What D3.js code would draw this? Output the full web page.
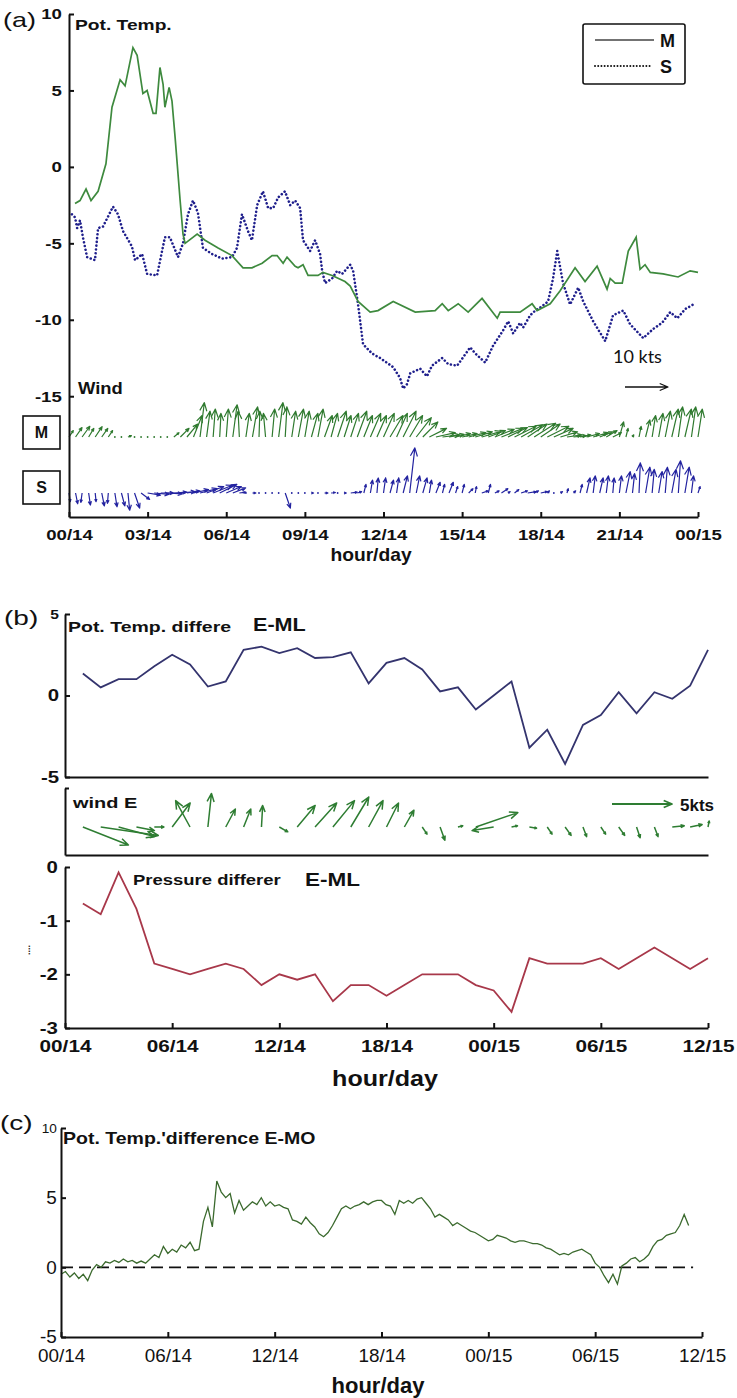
<!DOCTYPE html>
<html>
<head>
<meta charset="utf-8">
<script src="https://cdn.jsdelivr.net/npm/d3@7"></script>
<style>
  body { margin: 0; background: #fff; }
</style>
</head>
<body>
<script>
// ---------- data ----------
// (a) potential temperature, hours from 00/14
const potHoursM = [0.23,0.42,0.65,0.84,1.11,1.41,1.64,1.95,2.14,2.44,2.60,2.82,2.98,3.21,3.32,3.47,3.59,3.66,3.82,3.93,4.05,4.24,4.35,4.43,4.89,5.19,5.69,6.22,6.64,6.98,7.37,7.75,7.94,8.17,8.32,8.63,8.74,8.93,9.12,9.50,9.69,10.04,10.53,10.73,11.03,11.49,11.79,12.37,13.21,13.97,14.24,14.47,14.85,15.23,15.76,16.34,16.45,17.21,17.67,17.86,18.36,18.74,19.31,19.69,20.15,20.53,20.65,20.84,21.11,21.34,21.64,21.79,21.98,22.18,22.67,23.24,23.70,24.0];
const potM = [-2.4,-2.2,-1.45,-2.2,-1.6,0.2,3.9,5.7,5.3,7.8,7.3,4.8,5.0,3.5,3.5,6.5,5.4,3.9,5.2,4.3,1.9,-2.2,-4.4,-5.0,-4.4,-4.8,-5.3,-5.8,-6.6,-6.6,-6.3,-5.8,-5.8,-6.3,-5.9,-6.5,-6.6,-6.4,-7.1,-7.1,-6.9,-7.1,-7.5,-7.8,-8.8,-9.5,-9.4,-8.8,-9.5,-9.4,-8.95,-9.4,-8.95,-9.5,-8.6,-9.9,-9.5,-9.5,-8.95,-9.4,-8.95,-8.1,-6.6,-7.5,-6.5,-8.0,-7.3,-7.6,-7.6,-5.5,-4.6,-6.7,-6.4,-6.9,-7.0,-7.2,-6.8,-6.9];
const potHoursS = [0.11,0.23,0.31,0.42,0.53,0.69,0.99,1.11,1.30,1.68,1.87,2.06,2.40,2.52,2.79,2.98,3.36,3.66,3.85,4.16,4.35,4.54,4.73,4.92,5.11,5.46,5.84,6.22,6.41,6.60,6.83,6.98,7.18,7.40,7.60,7.79,7.98,8.24,8.44,8.63,8.82,8.93,9.20,9.39,9.58,9.66,9.77,10.04,10.23,10.42,10.73,10.84,11.03,11.22,11.56,11.87,12.37,12.63,12.75,12.90,13.02,13.40,13.66,13.85,14.24,14.47,14.81,15.31,15.50,15.88,16.18,16.56,16.76,16.95,17.21,17.33,17.60,17.79,17.98,18.28,18.47,18.63,18.85,19.12,19.43,19.62,20.00,20.46,20.76,21.15,21.41,21.91,22.29,22.63,22.94,23.21,23.51,23.82];
const potS = [-3.1,-3.3,-4.0,-3.5,-4.6,-5.9,-6.1,-4.0,-3.9,-2.6,-3.1,-4.2,-5.2,-6.1,-5.7,-7.0,-7.1,-4.6,-4.6,-5.9,-5.0,-3.1,-2.2,-3.0,-5.3,-5.7,-6.0,-5.9,-5.3,-3.1,-4.2,-4.8,-2.5,-1.6,-2.7,-2.7,-2.0,-1.6,-2.5,-2.2,-2.7,-4.8,-5.5,-4.8,-5.7,-6.8,-7.6,-7.3,-6.8,-7.0,-6.4,-6.8,-9.0,-11.6,-12.2,-12.5,-13.1,-13.8,-14.5,-14.2,-13.5,-13.2,-13.7,-13.0,-12.5,-12.9,-13.0,-11.8,-12.2,-12.8,-11.7,-10.7,-10.1,-10.9,-10.2,-10.5,-9.7,-9.4,-9.2,-8.8,-7.3,-5.5,-7.6,-9.0,-7.9,-8.8,-10.1,-11.4,-9.7,-9.4,-10.3,-11.2,-10.6,-10.2,-9.5,-9.9,-9.3,-9.0];

// (a) wind, every 15 min from 00/14 to 00/15 (kts)
const windUM = [1.0,1.5,1.8,1.2,1.6,1.4,1.0,0,0,0.8,0,0,
  0,0,0,0,1.2,2.0,2.5,2.0,1.0,0.8,0.5,0.3,
  0.5,1.0,-0.3,0.8,1.2,0.2,-0.5,0.6,1.0,0.4,0.9,1.2,
  1.0,1.5,1.2,1.8,1.5,2.0,1.6,1.8,2.2,2.0,2.4,2.2,
  2.5,3.0,2.5,3.0,3.0,3.5,3.5,4.0,4.5,4.0,3.5,3.5,
  3.5,4.0,4.0,4.5,4.0,4.5,5.0,4.5,5.0,5.0,4.5,5.0,
  4.5,5.0,4.5,4.0,3.5,3.0,2.5,3.0,3.5,3.0,2.5,2.0,
  1.0,0.5,0.3,0.5,1.0,0.8,1.0,1.2,1.5,1.0,1.5,1.0, 1.0];
const windVM = [1.5,2.2,2.5,2.0,2.4,2.0,1.5,0,0,0.3,0,0,
  0,0,0,0,1.0,2.0,3.0,5.0,8.0,6.0,6.5,5.5,
  6.5,7.5,6.0,5.5,7.0,6.0,5.5,6.5,8.0,7.0,6.0,6.5,
  6.0,5.5,6.5,5.0,5.5,6.0,5.0,5.5,6.0,5.0,5.5,5.0,
  5.5,5.0,5.5,6.0,5.0,4.5,3.5,2.0,1.0,0.5,0.6,0.8,
  0.8,1.0,1.2,1.3,1.5,1.8,2.0,2.2,2.5,2.8,3.0,3.2,
  3.0,2.5,2.0,1.2,0.5,0.3,0.5,0.8,1.0,1.2,1.5,1.0,
  3.5,2.0,0.5,2.5,4.0,5.0,5.5,6.0,6.5,7.0,6.5,7.0, 6.5];
const windUS = [0.3,0.5,-0.3,0.4,0.2,0.6,-0.2,0.5,0.8,0.4,1.2,2.0,
  3.0,3.5,3.0,3.5,3.0,3.5,3.0,3.5,4.0,4.0,4.5,4.0,
  3.5,3.0,1.5,0,0.8,0,0,0,0,1.2,0,0,
  0,0.5,0,0.8,1.0,0,0.5,1.5,1.0,0.5,0.5,0.3,
  0.5,0.8,0.5,1.0,1.2,0.8,1.0,0.5,1.0,0.5,1.0,0.5,
  0.5,1.0,0.3,1.5,0.5,1.0,1.5,0.5,1.0,1.5,2.0,1.0,
  1.5,0.5,0,0.5,0.3,0.5,0.5,0.8,0.5,0.8,0.5,0.3,
  0.5,1.0,0.5,0.3,1.0,0.5,0.8,0.5,1.0,0.5,1.0,0.5, 0.5];
const windVS = [-2.0,-2.5,-2.2,-2.8,-2.0,-3.0,-2.4,-3.2,-3.0,-4.0,-3.5,-1.5,
  -0.5,-0.3,0,-0.2,0.2,0.3,0.5,0.8,1.0,1.5,1.8,2.0,
  1.5,1.2,0.2,0,0,0,0,0,0,-3.5,0,0,
  0,0,0,0,0.1,0,0,0.2,0.3,2.0,3.0,3.5,
  3.5,3.0,3.5,4.0,10.5,4.0,3.5,3.0,2.5,2.0,2.5,1.5,
  2.0,1.0,1.5,0.5,2.0,0.5,1.0,0.3,0.8,0.5,0.3,0.5,
  0.3,0.5,0,0.3,1.0,0.5,2.0,3.5,4.0,3.5,4.0,3.5,
  4.0,5.0,4.5,7.0,6.0,5.5,5.0,6.0,5.5,7.5,6.0,4.0, 1.5];

// (b) hourly from 01/14 to 12/15
const diffHoursB = d3.range(1, 37);
const potDiffEML = [1.35,0.5,1.0,1.0,1.8,2.5,1.9,0.55,0.86,2.8,3.0,2.6,2.9,2.3,2.35,2.65,0.74,2.0,2.3,1.6,0.25,0.5,-0.86,0.0,0.86,-3.2,-2.1,-4.2,-1.8,-1.2,0.2,-1.1,0.2,-0.2,0.6,2.8];
const windUE = [3.8,4.8,3.0,1.5,0.8,1.5,-1.2,0.3,0.8,0.6,0.1,0.7,1.5,1.8,1.8,1.5,1.2,1.0,0.8,0.4,0.4,0.4,3.5,-1.8,0.5,0.6,0.4,0.5,0.3,0.4,0.5,0.3,0.3,1.0,1.0,0.1];
const windVE = [-1.5,-0.7,-0.8,-0.3,0,2.0,2.2,2.8,1.5,1.5,1.8,-0.4,1.8,2.0,2.2,2.5,2.2,2.0,1.4,-0.6,-1.1,0.1,1.2,-0.3,0.1,-0.1,-0.6,-0.7,-0.8,-0.6,-0.7,-0.9,-0.8,0.1,0.2,0.5];
const presDiffEML = [-0.68,-0.88,-0.1,-0.78,-1.8,-1.9,-2.0,-1.9,-1.8,-1.9,-2.2,-2.0,-2.1,-2.0,-2.5,-2.2,-2.2,-2.4,-2.2,-2.0,-2.0,-2.0,-2.2,-2.3,-2.7,-1.7,-1.8,-1.8,-1.8,-1.7,-1.9,-1.7,-1.5,-1.7,-1.9,-1.7];

// (c) every 15 min from 00/14
const potDiffEMO = [-0.5,-0.3,-0.7,-0.4, -0.8,-0.5,-0.95,-0.2, 0.2,0.0,0.4,0.3, 0.5,0.35,0.6,0.4,
  0.5,0.3,0.45,0.3, 0.6,0.9,0.7,1.5, 1.0,1.3,1.1,1.6, 1.4,1.8,1.2,1.3,
  3.3,4.3,2.9,6.2, 5.4,5.0,5.3,3.9, 4.8,4.1,4.4,4.7, 4.5,5.0,4.4,4.7,
  4.4,4.5,4.3,4.2, 3.4,3.3,3.1,3.6, 3.2,2.9,2.4,2.2, 2.5,3.0,3.6,4.2,
  4.4,4.2,4.4,4.5, 4.7,4.5,4.7,4.8, 4.8,4.5,4.4,3.8, 4.8,4.6,4.8,4.6,
  4.9,5.0,4.6,4.2, 3.6,3.8,3.6,3.4, 3.0,3.2,3.0,2.8, 2.6,2.5,2.3,2.1,
  1.9,2.0,2.3,2.2, 2.1,1.9,1.8,1.9, 1.9,1.8,1.7,1.7, 1.6,1.4,1.3,1.1,
  0.9,1.0,0.9,1.1, 1.2,1.3,1.1,0.9, 0.3,0.0,-0.6,-1.1, -0.5,-1.2,0.1,0.3,
  0.6,0.7,0.4,0.6, 0.9,1.5,1.9,2.0, 2.3,2.4,2.5,3.0, 3.8,3.0];

// ticks
const tickHoursA = [0,3,6,9,12,15,18,21,24];
const tickLabelsA = ["00/14","03/14","06/14","09/14","12/14","15/14","18/14","21/14","00/15"];
const tickHoursB = [0,6,12,18,24,30,36];
const tickLabelsB = ["00/14","06/14","12/14","18/14","00/15","06/15","12/15"];
const yTicksA = [10,5,0,-5,-10,-15];
const yTicksB = [5,0,-5];
const yTicksP = [0,-1,-2,-3];
const yTicksC = [10,5,0,-5];

// ---------- drawing ----------
const FONT = "'Liberation Sans', Arial, sans-serif";
const svg = d3.select("body").append("svg")
  .attr("width", 737).attr("height", 1398)
  .style("background", "#fff");

function txt(x, y, s, size, o = {}) {
  return svg.append("text")
    .attr("transform", `translate(${x},${y}) scale(${o.sx || 1},1)`)
    .attr("text-anchor", o.anchor || "start")
    .attr("fill", o.fill || "#111")
    .style("font-family", o.family || FONT)
    .style("font-weight", o.weight || "bold")
    .style("font-size", size + "px")
    .text(s);
}

function styleAxis(g, size, sx, weight) {
  g.select(".domain").attr("stroke", "#111").attr("stroke-width", 2);
  g.selectAll(".tick line").attr("stroke", "#111").attr("stroke-width", 2);
  g.selectAll(".tick text")
    .attr("fill", "#111")
    .attr("transform", `scale(${sx},1)`)
    .style("font-family", FONT)
    .style("font-weight", weight)
    .style("font-size", size + "px");
  return g;
}

function quiver(g, hours, us, vs, x, y0, k, color, width) {
  hours.forEach((h, i) => {
    const x0 = x(h), dx = us[i] * k, dy = -vs[i] * k;
    const len = Math.hypot(dx, dy);
    if (len < 0.5) {
      g.append("circle").attr("cx", x0).attr("cy", y0).attr("r", 0.9).attr("fill", color);
      return;
    }
    const x1 = x0 + dx, y1 = y0 + dy;
    const a = Math.atan2(dy, dx);
    const hl = Math.max(2.5, Math.min(9, len * 0.33));
    g.append("path")
      .attr("d", `M${x0},${y0}L${x1},${y1}M${x1 - hl * Math.cos(a - 0.4)},${y1 - hl * Math.sin(a - 0.4)}L${x1},${y1}L${x1 - hl * Math.cos(a + 0.4)},${y1 - hl * Math.sin(a + 0.4)}`)
      .attr("fill", "none").attr("stroke", color)
      .attr("stroke-width", width).attr("stroke-linejoin", "round");
  });
}

// ===== panel (a) =====
const xA = d3.scaleLinear().domain([0, 24]).range([69, 698]);
const yA = d3.scaleLinear().domain([-22.9, 10]).range([517, 14]);

const lineA = d3.line().x(d => xA(d[0])).y(d => yA(d[1]));
svg.append("path")
  .attr("d", lineA(potHoursS.map((h, i) => [h, potS[i]])))
  .attr("fill", "none").attr("stroke", "#1f1f8c")
  .attr("stroke-width", 2.6).attr("stroke-dasharray", "0.01 3.8").attr("stroke-linecap", "round");
svg.append("path")
  .attr("d", lineA(potHoursM.map((h, i) => [h, potM[i]])))
  .attr("fill", "none").attr("stroke", "#3e8a3e").attr("stroke-width", 1.7);

const windHoursA = d3.range(0, 24.01, 0.25);
quiver(svg.append("g"), windHoursA, windUM, windVM, xA, 437, 4.3, "#2f7a2f", 1.2);
quiver(svg.append("g"), windHoursA, windUS, windVS, xA, 493, 4.3, "#2323a0", 1.2);

styleAxis(svg.append("g").attr("transform", "translate(69,0)")
  .call(d3.axisLeft(yA).tickValues(yTicksA).tickSize(-5).tickSizeOuter(0).tickPadding(6)
    .tickFormat(d => String(d))), 15.5, 1.2, "bold");
svg.selectAll("g").filter(function () { return false; });
styleAxis(svg.append("g").attr("transform", "translate(0,517)")
  .call(d3.axisBottom(xA).tickValues(tickHoursA).tickSize(-5).tickSizeOuter(0).tickPadding(12)
    .tickFormat((d, i) => tickLabelsA[i])), 15.5, 1.2, "bold");

txt(3, 27, "(a)", 20, { weight: "normal", sx: 1.35 });
txt(75, 30, "Pot. Temp.", 15.5, { sx: 1.24 });
txt(78, 394, "Wind", 16, { sx: 1.15 });
txt(371, 561, "hour/day", 17.5, { anchor: "middle", sx: 1.1 });

// legend
svg.append("rect").attr("x", 583).attr("y", 24).attr("width", 102).attr("height", 60).attr("rx", 2)
  .attr("fill", "#fff").attr("stroke", "#111").attr("stroke-width", 1.6);
svg.append("line").attr("x1", 595).attr("x2", 654).attr("y1", 40).attr("y2", 40)
  .attr("stroke", "#444").attr("stroke-width", 1.4);
svg.append("line").attr("x1", 595).attr("x2", 650).attr("y1", 66).attr("y2", 66)
  .attr("stroke", "#111").attr("stroke-width", 2).attr("stroke-dasharray", "0.01 3.2").attr("stroke-linecap", "round");
txt(660, 47, "M", 18);
txt(660, 73, "S", 18);

// M / S boxes
[["M", 416, 438], ["S", 471, 493]].forEach(([s, y, b]) => {
  svg.append("rect").attr("x", 23).attr("y", y).attr("width", 37).attr("height", 33)
    .attr("fill", "#fff").attr("stroke", "#111").attr("stroke-width", 1.6);
  txt(41.5, b, s, 16, { anchor: "middle" });
});

// 10 kts reference arrow
txt(613, 363, "10 kts", 18, { weight: "normal", family: "Lato, 'Open Sans', sans-serif" });
quiver(svg.append("g"), [0], [10], [0], () => 625, 387, 4.3, "#111", 1.3);

// ===== panel (b) =====
const xB = d3.scaleLinear().domain([0, 36]).range([65, 708]);
const yB = d3.scaleLinear().domain([-5, 5]).range([777, 614]);
const yP = d3.scaleLinear().domain([-3, 0]).range([1028, 867]);
const yW = d3.scaleLinear().domain([0, 1]).range([855, 788]);

svg.append("path")
  .attr("d", d3.line().x((d, i) => xB(diffHoursB[i])).y(d => yB(d))(potDiffEML))
  .attr("fill", "none").attr("stroke", "#34346e").attr("stroke-width", 1.8);
svg.append("path")
  .attr("d", d3.line().x((d, i) => xB(diffHoursB[i])).y(d => yP(d))(presDiffEML))
  .attr("fill", "none").attr("stroke", "#a8384a").attr("stroke-width", 1.8);

quiver(svg.append("g"), diffHoursB, windUE, windVE, xB, 827, 12, "#2e7d32", 1.5);
// 5 kts reference
quiver(svg.append("g"), [0], [5], [0], () => 612, 804, 12, "#2e7d32", 1.8);
txt(680, 811, "5kts", 17);

const yAxB = styleAxis(svg.append("g").attr("transform", "translate(65,0)")
  .call(d3.axisLeft(yB).tickValues(yTicksB).tickSize(-5).tickSizeOuter(0).tickPadding(5)
    .tickFormat(d => String(d))), 17, 1.2, "bold");
yAxB.selectAll(".tick text").filter(d => d === 5).style("font-size", "13px");
styleAxis(svg.append("g").attr("transform", "translate(0,777)")
  .call(d3.axisBottom(xB).tickValues([]).tickSizeOuter(0)), 17, 1, "bold");

styleAxis(svg.append("g").attr("transform", "translate(65,0)")
  .call(d3.axisLeft(yW).tickValues([1]).tickSize(-4).tickSizeOuter(0).tickFormat("")), 17, 1, "bold");
styleAxis(svg.append("g").attr("transform", "translate(0,855)")
  .call(d3.axisBottom(xB).tickValues([]).tickSizeOuter(0)), 17, 1, "bold");

styleAxis(svg.append("g").attr("transform", "translate(65,0)")
  .call(d3.axisLeft(yP).tickValues(yTicksP).tickSize(-5).tickSizeOuter(0).tickPadding(6)
    .tickFormat(d => String(d))), 17, 1.2, "bold");
styleAxis(svg.append("g").attr("transform", "translate(0,1028)")
  .call(d3.axisBottom(xB).tickValues(tickHoursB).tickSize(-5).tickSizeOuter(0).tickPadding(12)
    .tickFormat((d, i) => tickLabelsB[i])), 17, 1.22, "bold");

txt(4, 625, "(b)", 20, { weight: "normal", sx: 1.4 });
txt(68, 632, "Pot. Temp. differe", 15, { sx: 1.3 });
txt(253, 631, "E-ML", 18, { sx: 1.2 });
txt(73, 808, "wind E", 15, { sx: 1.33 });
txt(133, 885, "Pressure differer", 14, { sx: 1.32 });
txt(305, 886, "E-ML", 18, { sx: 1.25 });
svg.append("text").attr("transform", "translate(30,950) rotate(-90)")
  .attr("text-anchor", "middle").attr("fill", "#111")
  .style("font", "bold 9px " + FONT).text("....");
txt(385, 1086, "hour/day", 22, { anchor: "middle", sx: 1.14 });

// ===== panel (c) =====
const xC = d3.scaleLinear().domain([0, 36]).range([61, 702]);
const yC = d3.scaleLinear().domain([-5, 10]).range([1337, 1128]);
const hoursC = d3.range(0, potDiffEMO.length).map(i => i * 0.25);

svg.append("line").attr("x1", xC(0)).attr("x2", xC(35.5)).attr("y1", yC(0)).attr("y2", yC(0))
  .attr("stroke", "#111").attr("stroke-width", 1.6).attr("stroke-dasharray", "12 6");
svg.append("path")
  .attr("d", d3.line().x((d, i) => xC(hoursC[i])).y(d => yC(d))(potDiffEMO))
  .attr("fill", "none").attr("stroke", "#3b6a2e").attr("stroke-width", 1.3);

const yAxC = styleAxis(svg.append("g").attr("transform", "translate(61,0)")
  .call(d3.axisLeft(yC).tickValues(yTicksC).tickSize(-5).tickSizeOuter(0).tickPadding(4)
    .tickFormat(d => String(d))), 18, 1.05, "normal");
yAxC.selectAll(".tick text").filter(d => d === 10).style("font-size", "13px");
styleAxis(svg.append("g").attr("transform", "translate(0,1337)")
  .call(d3.axisBottom(xC).tickValues(tickHoursB).tickSize(-5).tickSizeOuter(0).tickPadding(12)
    .tickFormat((d, i) => tickLabelsB[i])), 18, 1.05, "normal");

txt(0, 1130, "(c)", 20, { weight: "normal", sx: 1.4 });
txt(63, 1144, "Pot. Temp.'difference E-MO", 16, { sx: 1.22 });
txt(378, 1393, "hour/day", 22, { anchor: "middle" });
</script>
</body>
</html>
